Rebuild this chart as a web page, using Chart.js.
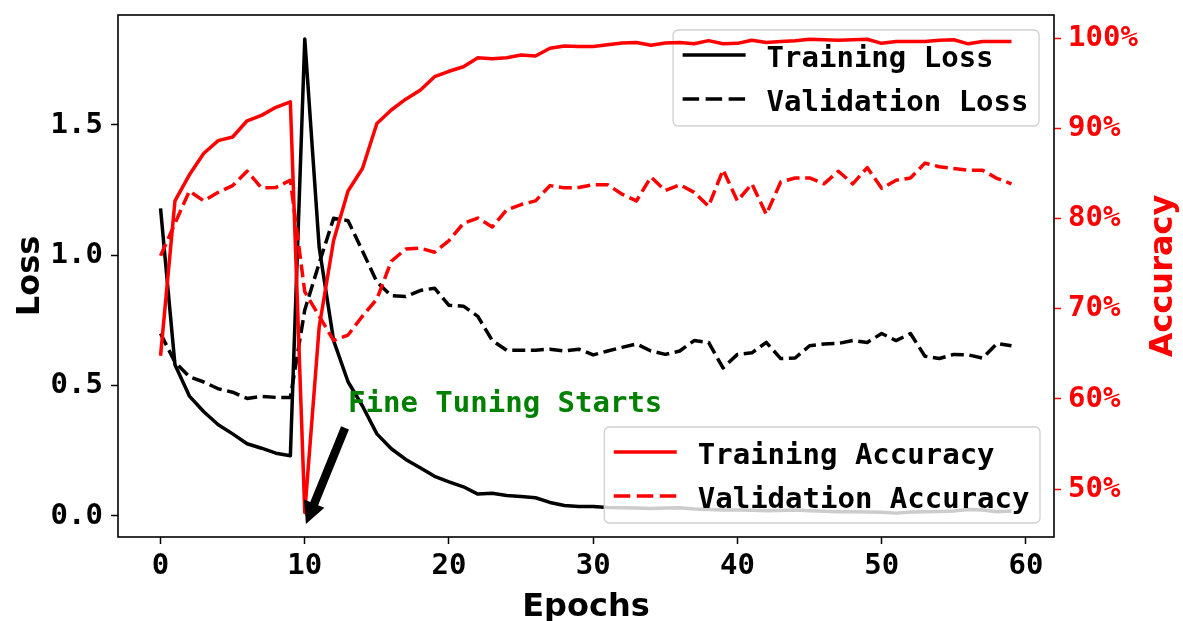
<!DOCTYPE html>
<html>
<head>
<meta charset="utf-8">
<script src="https://cdn.jsdelivr.net/npm/chart.js@4.4.0/dist/chart.umd.min.js"></script>
<style>
html,body{margin:0;padding:0;background:#ffffff;}
#wrap{width:1183px;height:621px;}
</style>
</head>
<body>
<div id="wrap"><canvas id="c" width="1183" height="621"></canvas></div>
<script>
// ---------------- data ----------------
const epochs = [0,1,2,3,4,5,6,7,8,9,10,11,12,13,14,15,16,17,18,19,20,21,22,23,24,25,26,27,28,29,
  30,31,32,33,34,35,36,37,38,39,40,41,42,43,44,45,46,47,48,49,50,51,52,53,54,55,56,57,58,59];

const trainLoss = [1.18,0.58,0.46,0.40,0.35,0.315,0.277,0.26,0.241,0.231,
  1.83,1.03,0.673,0.515,0.422,0.315,0.258,0.217,0.185,0.152,
  0.131,0.112,0.084,0.087,0.079,0.075,0.070,0.052,0.040,0.036,
  0.036,0.033,0.032,0.031,0.029,0.031,0.032,0.027,0.025,0.023,
  0.023,0.022,0.020,0.021,0.023,0.020,0.018,0.016,0.016,0.015,
  0.014,0.011,0.015,0.016,0.017,0.019,0.025,0.023,0.016,0.019];

const valLoss = [0.70,0.59,0.534,0.514,0.488,0.475,0.451,0.459,0.455,0.455,
  0.79,0.97,1.142,1.133,1.017,0.898,0.845,0.842,0.865,0.874,
  0.808,0.805,0.766,0.673,0.636,0.636,0.636,0.640,0.633,0.640,
  0.618,0.633,0.647,0.660,0.633,0.620,0.633,0.673,0.666,0.568,
  0.620,0.626,0.666,0.604,0.606,0.653,0.660,0.662,0.673,0.666,
  0.700,0.673,0.700,0.613,0.604,0.620,0.618,0.606,0.662,0.653];

const trainAcc = [64.8,82.0,84.9,87.3,88.7,89.1,90.9,91.5,92.4,93.0,
  47.4,68.0,77.6,83.1,85.6,90.6,92.1,93.3,94.3,95.8,
  96.4,96.9,97.9,97.8,97.9,98.2,98.1,98.95,99.2,99.15,
  99.15,99.35,99.55,99.6,99.3,99.55,99.6,99.45,99.8,99.45,
  99.5,99.85,99.6,99.7,99.8,99.95,99.9,99.85,99.9,99.95,
  99.5,99.7,99.7,99.7,99.85,99.9,99.45,99.7,99.7,99.7];

const valAcc = [75.9,79.5,83.1,82.0,82.95,83.7,85.3,83.45,83.5,84.3,
  71.9,69.2,66.5,67.1,69.2,71.1,75.3,76.65,76.75,76.3,
  77.6,79.5,80.1,79.1,81.0,81.6,82.0,83.7,83.45,83.5,
  83.8,83.8,82.75,82.0,84.65,83.15,83.8,82.95,81.4,85.45,
  82.0,83.9,80.5,84.1,84.55,84.55,83.9,85.3,83.9,85.7,
  83.4,84.3,84.55,86.2,85.8,85.6,85.4,85.4,84.5,83.9];

const xTicks = [0,10,20,30,40,50,60];
const xTickLabels = ['0','10','20','30','40','50','60'];
const lossTicks = [0,0.5,1.0,1.5];
const lossTickLabels = ['0.0','0.5','1.0','1.5'];
const accTicks = [50,60,70,80,90,100];
const accTickLabels = ['50%','60%','70%','80%','90%','100%'];

const seriesNames = ['Training Loss','Validation Loss','Training Accuracy','Validation Accuracy'];
const axisTitles = ['Epochs','Loss','Accuracy'];
const annotationText = 'Fine Tuning Starts';
const annotationTextAt = [13, 0.40];     // epoch, loss
const arrowFrom = [12.79, 0.338];        // epoch, loss
const arrowTo = [10.08, -0.031];         // epoch, loss

// ---------------- styles ----------------
const MONO = '"DejaVu Sans Mono", monospace';
const SANS = '"DejaVu Sans", sans-serif';
const LW = 3.5;
const DASH = [13, 5.6];
const LEG_DASH = [16.5, 6.5];

function pts(ys){ return epochs.map((e,i)=>({x:e, y:ys[i]})); }

function roundRect(ctx, x, y, w, h, r){
  ctx.beginPath();
  ctx.moveTo(x+r, y);
  ctx.lineTo(x+w-r, y); ctx.arcTo(x+w, y, x+w, y+r, r);
  ctx.lineTo(x+w, y+h-r); ctx.arcTo(x+w, y+h, x+w-r, y+h, r);
  ctx.lineTo(x+r, y+h); ctx.arcTo(x, y+h, x, y+h-r, r);
  ctx.lineTo(x, y+r); ctx.arcTo(x, y, x+r, y, r);
  ctx.closePath();
}

function drawLegend(ctx, right, top, bottom, items){
  ctx.save();
  ctx.font = 'bold 29px ' + MONO;
  let tw = 0;
  items.forEach(it => { tw = Math.max(tw, ctx.measureText(it.label).width); });
  const w = 94 + tw + 10;
  const h = 96;
  const x = right - w;
  const y = (top !== null) ? top : bottom - h;
  roundRect(ctx, x, y, w, h, 5);
  ctx.fillStyle = 'rgba(255,255,255,0.8)';
  ctx.fill();
  ctx.lineWidth = 1.3;
  ctx.strokeStyle = '#d0d0d0';
  ctx.stroke();
  items.forEach((it, i) => {
    const ry = y + 25 + i*44;
    ctx.beginPath();
    ctx.setLineDash(it.dash);
    ctx.lineCap = 'butt';
    ctx.strokeStyle = it.color;
    ctx.lineWidth = LW;
    ctx.moveTo(x + 9.5, ry);
    ctx.lineTo(x + 72.5, ry);
    ctx.stroke();
    ctx.setLineDash([]);
    ctx.fillStyle = '#000000';
    ctx.textBaseline = 'alphabetic';
    ctx.textAlign = 'left';
    ctx.fillText(it.label, x + 93.5, ry + 11.5);
  });
  ctx.restore();
}

function drawArrow(ctx, x0, y0, x1, y1){
  const dx = x1-x0, dy = y1-y0, L = Math.hypot(dx,dy);
  const ux = dx/L, uy = dy/L, px = -uy, py = ux;
  const headL = 22, headW = 22, shaftW = 8.5;
  const bx = x1 - ux*headL, by = y1 - uy*headL;
  ctx.beginPath();
  ctx.moveTo(x0 + px*shaftW/2, y0 + py*shaftW/2);
  ctx.lineTo(bx + px*shaftW/2, by + py*shaftW/2);
  ctx.lineTo(bx + px*headW/2, by + py*headW/2);
  ctx.lineTo(x1, y1);
  ctx.lineTo(bx - px*headW/2, by - py*headW/2);
  ctx.lineTo(bx - px*shaftW/2, by - py*shaftW/2);
  ctx.lineTo(x0 - px*shaftW/2, y0 - py*shaftW/2);
  ctx.closePath();
  ctx.fillStyle = '#000000';
  ctx.fill();
}

const overlayPlugin = {
  id: 'overlay',
  afterDatasetDraw(chart, args){
    if (args.index === 1) {
      // loss legend sits between loss lines and accuracy lines
      const ca = chart.chartArea;
      drawLegend(chart.ctx, ca.right - 15, ca.top + 15, null, [
        {label: seriesNames[0], color: '#000000', dash: []},
        {label: seriesNames[1], color: '#000000', dash: LEG_DASH}
      ]);
    }
  },
  afterDatasetsDraw(chart){
    const ctx = chart.ctx, ca = chart.chartArea;
    const xs = chart.scales.x, ys = chart.scales.y;
    // annotation
    ctx.save();
    drawArrow(ctx, xs.getPixelForValue(arrowFrom[0]), ys.getPixelForValue(arrowFrom[1]),
                   xs.getPixelForValue(arrowTo[0]), ys.getPixelForValue(arrowTo[1]));
    ctx.font = 'bold 29px ' + MONO;
    ctx.fillStyle = '#008000';
    ctx.textAlign = 'left';
    ctx.textBaseline = 'alphabetic';
    ctx.fillText(annotationText, xs.getPixelForValue(annotationTextAt[0]), ys.getPixelForValue(annotationTextAt[1]));
    ctx.restore();
    // accuracy legend (on top)
    drawLegend(ctx, ca.right - 14, null, ca.bottom - 14, [
      {label: seriesNames[2], color: '#ff0000', dash: []},
      {label: seriesNames[3], color: '#ff0000', dash: LEG_DASH}
    ]);
  },
  afterDraw(chart){
    const ctx = chart.ctx, ca = chart.chartArea;
    ctx.save();
    // frame
    ctx.strokeStyle = '#000000';
    ctx.lineWidth = 1.6;
    ctx.strokeRect(ca.left, ca.top, ca.right - ca.left, ca.bottom - ca.top);
    // right axis title, reading bottom-to-top
    ctx.translate(1164, (ca.top + ca.bottom)/2);
    ctx.rotate(-Math.PI/2);
    ctx.font = 'bold 32px ' + SANS;
    ctx.fillStyle = '#ff0000';
    ctx.textAlign = 'center';
    ctx.textBaseline = 'middle';
    ctx.fillText(axisTitles[2], 0, 0);
    ctx.restore();
  }
};

function zeroPad(scale){
  scale.paddingTop = 0; scale.paddingBottom = 0; scale.paddingLeft = 0; scale.paddingRight = 0;
}

const tickFont = {family: MONO, weight: 'bold', size: 29};

new Chart(document.getElementById('c'), {
  type: 'line',
  data: {
    datasets: [
      {label: seriesNames[0], data: pts(trainLoss), yAxisID: 'y', borderColor: '#000000', borderWidth: LW, borderDash: [], order: 4},
      {label: seriesNames[1], data: pts(valLoss), yAxisID: 'y', borderColor: '#000000', borderWidth: LW, borderDash: DASH, order: 3},
      {label: seriesNames[2], data: pts(trainAcc), yAxisID: 'y1', borderColor: '#ff0000', borderWidth: LW, borderDash: [], order: 2},
      {label: seriesNames[3], data: pts(valAcc), yAxisID: 'y1', borderColor: '#ff0000', borderWidth: LW, borderDash: DASH, order: 1}
    ]
  },
  options: {
    responsive: false,
    animation: false,
    devicePixelRatio: 1,
    layout: {padding: {top: 15, left: 0, right: 0, bottom: 0}},
    elements: {
      line: {tension: 0, fill: false, borderJoinStyle: 'round', borderCapStyle: 'butt'},
      point: {radius: 0, hoverRadius: 0}
    },
    plugins: {legend: {display: false}, tooltip: {enabled: false}},
    events: [],
    scales: {
      x: {
        type: 'linear', position: 'bottom', min: -2.95, max: 61.95,
        afterBuildTicks: s => { s.ticks = xTicks.map(v => ({value: v})); },
        afterFit: s => { s.height = 84; zeroPad(s); },
        ticks: {font: tickFont, color: '#000000', padding: 5, maxRotation: 0, autoSkip: false,
                callback: (v, i) => xTickLabels[i]},
        grid: {display: true, drawOnChartArea: false, drawTicks: true, tickLength: 7, tickColor: '#000000', tickWidth: 1.5},
        border: {display: false},
        title: {display: true, text: axisTitles[0], color: '#000000', font: {family: SANS, weight: 'bold', size: 32}, padding: {top: 0, bottom: -6}}
      },
      y: {
        type: 'linear', position: 'left', min: -0.0806, max: 1.922,
        afterBuildTicks: s => { s.ticks = lossTicks.map(v => ({value: v})); },
        afterFit: s => { s.width = 118; zeroPad(s); },
        ticks: {font: tickFont, color: '#000000', padding: 8, callback: (v, i) => lossTickLabels[i]},
        grid: {display: true, drawOnChartArea: false, drawTicks: true, tickLength: 7, tickColor: '#000000', tickWidth: 1.5},
        border: {display: false},
        title: {display: true, text: axisTitles[1], color: '#000000', font: {family: SANS, weight: 'bold', size: 32}, padding: {top: 11, bottom: 0}}
      },
      y1: {
        type: 'linear', position: 'right', min: 44.67, max: 102.65,
        afterBuildTicks: s => { s.ticks = accTicks.map(v => ({value: v})); },
        afterFit: s => { s.width = 129; zeroPad(s); },
        ticks: {font: tickFont, color: '#ff0000', padding: 7, callback: (v, i) => accTickLabels[i]},
        grid: {display: true, drawOnChartArea: false, drawTicks: true, tickLength: 7, tickColor: '#ff0000', tickWidth: 1.5},
        border: {display: false}
      }
    }
  },
  plugins: [overlayPlugin]
});
</script>
</body>
</html>
